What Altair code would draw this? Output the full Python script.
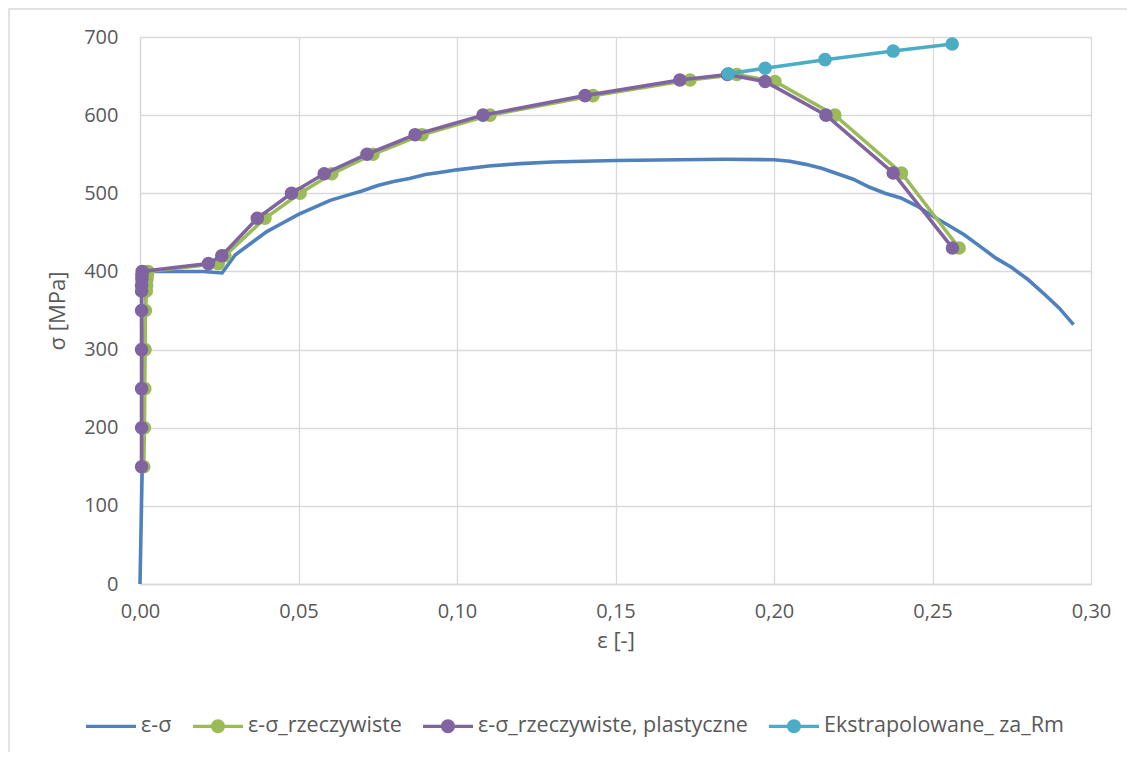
import altair as alt
import pandas as pd

# ---------------- data ----------------
SERIES = ["ε-σ", "ε-σ_rzeczywiste", "ε-σ_rzeczywiste, plastyczne", "Ekstrapolowane_ za_Rm"]
COLORS = ["#4F81BD", "#9BBB59", "#8064A2", "#4BACC6"]

eps_eng = [0, 0.0007, 0.0010, 0.0012, 0.0014, 0.0017, 0.0019, 0.010, 0.020, 0.0259, 0.030,
           0.035, 0.040, 0.045, 0.050, 0.055, 0.060, 0.065, 0.070, 0.075, 0.080, 0.085,
           0.090, 0.095, 0.100, 0.110, 0.120, 0.130, 0.150, 0.170, 0.185, 0.200, 0.205,
           0.210, 0.215, 0.220, 0.225, 0.230, 0.235, 0.240, 0.245, 0.250, 0.255, 0.260,
           0.265, 0.270, 0.275, 0.280, 0.285, 0.290, 0.2945]
sig_eng = [0, 150, 200, 250, 300, 350, 400, 400, 400, 398, 421,
           436, 451, 462, 473, 482, 491, 497, 503, 510, 515, 519,
           524, 527, 530, 535, 538, 540, 542, 543, 543.5, 543, 541,
           537, 532, 525, 518, 508, 500, 494, 484, 471, 459, 447,
           432, 417, 405, 390, 372, 353, 332]

eps_true = [0.0012, 0.0014, 0.0015, 0.0016, 0.0017, 0.0020, 0.0021, 0.0022, 0.0023, 0.0025,
            0.0247, 0.0268, 0.0394, 0.0505, 0.0605, 0.0735, 0.0890, 0.1104, 0.1429, 0.1735,
            0.1883, 0.2003, 0.2192, 0.2402, 0.2584]
sig_true = [150, 200, 250, 300, 350, 375, 382, 390, 395, 400,
            410, 420, 468, 500, 525, 550, 575, 600, 625, 645,
            652, 643, 600, 526, 430]

eps_pl = [0.0005, 0.0005, 0.0005, 0.0005, 0.0005, 0.0005, 0.0005, 0.0006, 0.0006, 0.0007,
          0.0216, 0.0258, 0.0370, 0.0478, 0.0581, 0.0716, 0.0868, 0.1082, 0.1404, 0.1703,
          0.1853, 0.1972, 0.2164, 0.2376, 0.2563]
sig_pl = [150, 200, 250, 300, 350, 375, 382, 390, 395, 400,
          410, 420, 468, 500, 525, 550, 575, 600, 625, 645,
          652, 643, 600, 526, 430]

eps_ext = [0.1856, 0.1972, 0.2161, 0.2376, 0.2562]
sig_ext = [653, 660, 671, 682, 691]

X_TICKS = [0, 0.05, 0.10, 0.15, 0.20, 0.25, 0.30]
Y_TICKS = [0, 100, 200, 300, 400, 500, 600, 700]

# ---------------- table ----------------
rows = []
for name, xs, ys in [(SERIES[0], eps_eng, sig_eng), (SERIES[1], eps_true, sig_true),
                     (SERIES[2], eps_pl, sig_pl), (SERIES[3], eps_ext, sig_ext)]:
    for i, (x, y) in enumerate(zip(xs, ys)):
        rows.append({"series": name, "eps": x, "sigma": y, "idx": i})
df = pd.DataFrame(rows)

FONT = "Open Sans"
GREY = "#595959"
GRID = "#d9d9d9"

LINE = "M-1,-0.065L1,-0.065L1,0.065L-1,0.065Z"
DOT = " M-0.28,0A0.28,0.28,0,1,1,0.28,0A0.28,0.28,0,1,1,-0.28,0Z"
SHAPES = [LINE, LINE + DOT, LINE + DOT, LINE + DOT]

x_enc = alt.X("eps:Q", scale=alt.Scale(domain=[0, 0.3], nice=False),
              axis=alt.Axis(values=X_TICKS, title="ε [-]", labelFlush=False,
                            labelExpr="replace(format(datum.value, '.2f'), '.', ',')"))
y_enc = alt.Y("sigma:Q", scale=alt.Scale(domain=[0, 700], nice=False),
              axis=alt.Axis(values=Y_TICKS, title="σ [MPa]", labelFlush=False))

base = alt.Chart(df)

# border decoration
border = alt.Chart(pd.DataFrame({"a": [0]})).mark_rect(
    fill="white", fillOpacity=0, stroke=GRID, strokeWidth=1.5
).encode(x=alt.value(-131), x2=alt.value(1300), y=alt.value(-28), y2=alt.value(900))

# legend-only layer (no rows survive the filter; the legend comes from the scale domain)
legend_layer = base.transform_filter(alt.datum.sigma < 0).mark_point(
    filled=True, size=2500, strokeWidth=0, opacity=1
).encode(
    x=x_enc, y=y_enc,
    color=alt.Color("series:N", scale=alt.Scale(domain=SERIES, range=COLORS),
                    legend=alt.Legend(title=None, orient="none", legendX=-54, legendY=664,
                                      direction="horizontal", columns=4, columnPadding=21,
                                      labelOffset=5, symbolSize=2500, symbolOpacity=1,
                                      symbolStrokeWidth=0, labelFont=FONT, labelFontSize=21.5,
                                      labelColor=GREY, labelLimit=400)),
    shape=alt.Shape("series:N", scale=alt.Scale(domain=SERIES, range=SHAPES)),
)

layers = [border, legend_layer]
for name, col in zip(SERIES, COLORS):
    sub = base.transform_filter(alt.datum.series == name)
    layers.append(sub.mark_line(color=col, strokeWidth=3.6).encode(
        x=x_enc, y=y_enc, order="idx:Q"))
    if name != SERIES[0]:
        layers.append(sub.mark_circle(color=col, size=185, opacity=1).encode(x=x_enc, y=y_enc))

chart = alt.layer(*layers).properties(
    width=951, height=547,
    padding={"left": 132, "top": 29, "right": 36, "bottom": 168},
    autosize=alt.AutoSizeParams(type="none"),
).configure_view(stroke=None).configure_axis(
    gridColor=GRID, gridWidth=1.3, domainColor=GRID, domainWidth=1.3, ticks=False,
    labelFont=FONT, labelFontSize=20, labelColor=GREY,
    titleFont=FONT, titleFontSize=22, titleColor=GREY, titleFontWeight="normal",
).configure_axisX(labelPadding=17, titlePadding=9).configure_axisY(
    labelPadding=22, titlePadding=14)

chart.save("out.html", embed_options={"renderer": "svg", "actions": False})
